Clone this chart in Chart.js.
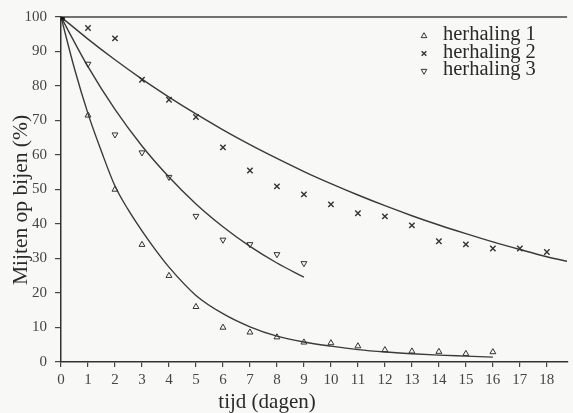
<!DOCTYPE html>
<html><head><meta charset="utf-8">
<script src="https://cdn.jsdelivr.net/npm/chart.js@4"></script>
<style>html,body{margin:0;padding:0;background:#f8f8f6;} #wrap{width:573px;height:413px;position:relative;}</style>
</head><body><div id="wrap"><canvas id="c" width="573" height="413"></canvas></div>
<script>
// ---- data ----
const legendLabels = ['herhaling 1', 'herhaling 2', 'herhaling 3'];
const xTitle = 'tijd (dagen)';
const yTitle = 'Mijten op bijen (%)';
const xTicks = [0,1,2,3,4,5,6,7,8,9,10,11,12,13,14,15,16,17,18];
const yTicks = [0,10,20,30,40,50,60,70,80,90,100];

const h1Days = [0,1,2,3,4,5,6,7,8,9,10,11,12,13,14,15,16];
const h1Vals = [100,71.5,50,34,25,16,10,8.6,7.2,5.7,5.5,4.6,3.5,3.1,3,2.4,2.9];
const h2Days = [0,1,2,3,4,5,6,7,8,9,10,11,12,13,14,15,16,17,18];
const h2Vals = [100,96.8,93.8,81.8,76,71,62.2,55.5,50.9,48.6,45.7,43.1,42.2,39.6,35,34.1,32.9,32.9,31.9];
const h3Days = [0,1,2,3,4,5,6,7,8,9];
const h3Vals = [100,86.4,65.9,60.7,53.6,42.3,35.4,34.1,31.2,28.6];

const fit1X = [0,0.5,1,1.5,2,2.5,3,3.5,4,5,6,7,8,9,10,11,12,13,14,15,16];
const fit1Y = [100,85,72,61,51,44,38,32.5,27.5,19.3,14,10.2,7.5,5.8,4.6,3.6,2.9,2.4,2.0,1.7,1.4];
const fit2X = [0,1,2,3,4,5,6,7,8,9,10,11,12,13,14,15,16,17,18,18.8];
const fit2Y = [100,93.6,87.6,82.0,76.8,71.9,67.3,63.0,59.0,55.2,51.7,48.4,45.3,42.4,39.7,37.2,34.8,32.6,30.5,29.1];
const fit3X = [0,1,2,3,4,5,6,7,8,9];
const fit3Y = [100,85.6,73.2,62.6,53.6,45.8,39.2,33.5,28.7,24.6];

// ---- build ----
const FONT = "'Liberation Serif','Times New Roman',serif";
const INK = '#3a3a3a';
const zip = (xs, ys) => xs.map((x, i) => ({x: x, y: ys[i]}));

function fitSet(xs, ys) {
  return {data: zip(xs, ys), showLine: true, pointRadius: 0, borderColor: INK,
          borderWidth: 1.4, cubicInterpolationMode: 'monotone', fill: false, order: 2};
}
function markSet(label, xs, ys, style, rot, bw, r) {
  return {label: label, data: zip(xs, ys), showLine: false, order: 1,
    pointStyle: c => c.dataIndex === 0 ? 'rect' : style,
    pointRotation: c => c.dataIndex === 0 ? 0 : rot,
    pointRadius: c => c.dataIndex === 0 ? 4.5 : r,
    pointBorderWidth: bw, pointBorderColor: '#333',
    pointBackgroundColor: c => c.dataIndex === 0 ? '#111' : 'rgba(0,0,0,0)'};
}

function drawMarker(ctx, kind, x, y, r) {
  ctx.save();
  ctx.strokeStyle = '#333';
  ctx.lineWidth = 1;
  ctx.beginPath();
  if (kind === 'up' || kind === 'down') {
    const s = kind === 'up' ? 1 : -1;
    ctx.moveTo(x, y - s * r);
    ctx.lineTo(x + r * 0.866, y + s * r * 0.5);
    ctx.lineTo(x - r * 0.866, y + s * r * 0.5);
    ctx.closePath();
  } else {
    const d = r * 0.707;
    ctx.lineWidth = 1.4;
    ctx.moveTo(x - d, y - d); ctx.lineTo(x + d, y + d);
    ctx.moveTo(x + d, y - d); ctx.lineTo(x - d, y + d);
  }
  ctx.stroke();
  ctx.restore();
}

const extras = {
  id: 'extras',
  beforeDatasetsDraw(chart) {
    const {ctx, chartArea: a} = chart;
    ctx.save();
    ctx.strokeStyle = '#444';
    ctx.lineWidth = 1.5;
    ctx.beginPath();
    ctx.moveTo(a.left, a.top);
    ctx.lineTo(a.right, a.top);
    ctx.stroke();
    ctx.restore();
  },
  afterDraw(chart) {
    const ctx = chart.ctx;
    ctx.save();
    ctx.fillStyle = '#2a2a2a';
    ctx.textBaseline = 'middle';
    ctx.font = '20.5px ' + FONT;
    const kinds = ['up', 'cross', 'down'];
    const ys = [35, 52.5, 70];
    legendLabels.forEach((t, i) => {
      drawMarker(ctx, kinds[i], 424, ys[i] + 1, 3.3);
      ctx.textAlign = 'left';
      ctx.fillText(t, 443, ys[i]);
    });
    ctx.font = '21px ' + FONT;
    ctx.textAlign = 'center';
    ctx.fillText(xTitle, 267, 402);
    ctx.font = '21.5px ' + FONT;
    ctx.translate(21, 200);
    ctx.rotate(-Math.PI / 2);
    ctx.fillText(yTitle, 0, 0);
    ctx.restore();
  }
};

new Chart(document.getElementById('c'), {
  type: 'scatter',
  data: {datasets: [
    fitSet(fit1X, fit1Y), fitSet(fit2X, fit2Y), fitSet(fit3X, fit3Y),
    markSet(legendLabels[0], h1Days, h1Vals, 'triangle', 0, 1, 3.4),
    markSet(legendLabels[1], h2Days, h2Vals, 'crossRot', 0, 1.4, 3.8),
    markSet(legendLabels[2], h3Days, h3Vals, 'triangle', 180, 1, 3.4)
  ]},
  options: {
    responsive: false, animation: false, devicePixelRatio: 1,
    layout: {padding: {top: 17, right: 0, bottom: 0, left: 0}},
    plugins: {legend: {display: false}, tooltip: {enabled: false}},
    scales: {
      x: {type: 'linear', min: 0, max: 18.75,
        afterBuildTicks: s => { s.ticks = xTicks.map(v => ({value: v})); },
        afterFit: s => { s.height = 51; },
        grid: {drawOnChartArea: false, drawTicks: true, tickLength: 5, color: '#444', lineWidth: 1.2},
        border: {color: '#333', width: 1.5},
        ticks: {padding: 4, autoSkip: false, maxRotation: 0, color: '#444',
                font: {family: FONT, size: 15}, callback: v => String(v)}},
      y: {type: 'linear', min: 0, max: 100,
        afterBuildTicks: s => { s.ticks = yTicks.map(v => ({value: v})); },
        afterFit: s => { s.width = 61; },
        grid: {drawOnChartArea: false, drawTicks: true, tickLength: 6, color: '#444', lineWidth: 1.2},
        border: {color: '#333', width: 1.5},
        ticks: {padding: 8, color: '#444', font: {family: FONT, size: 15}, callback: v => String(v)}}
    }
  },
  plugins: [extras]
});
</script></body></html>
